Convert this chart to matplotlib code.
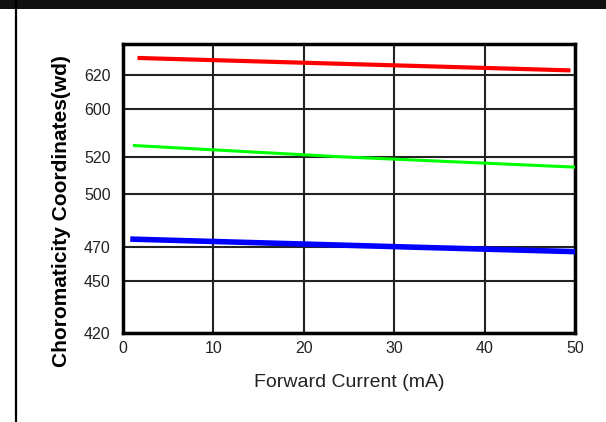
import numpy as np
import matplotlib
matplotlib.use('Agg')
import matplotlib.pyplot as plt
from matplotlib.lines import Line2D
from matplotlib.patches import Rectangle

# data (forward current in mA, wavelength in nm)
red_current = [1.6, 49.5]
red_wd = [629.8, 622.5]
green_current = [1.1, 24.0, 50.0]
green_wd = [538.8, 520.0, 514.4]
blue_current = [0.8, 31.0, 50.0]
blue_wd = [474.4, 470.0, 467.2]

x_ticks = [0, 10, 20, 30, 40, 50]
y_ticks = [420, 450, 470, 500, 520, 600, 620]

# the y axis is broken: ticks are not evenly spaced
scale_vals = [420, 450, 470, 500, 520, 600, 620, 640]
scale_pos = [0, 52, 86, 139, 176, 224, 258, 292]


def fwd(v):
    return np.interp(v, scale_vals, scale_pos)


def inv(p):
    return np.interp(p, scale_pos, scale_vals)


plt.rcParams['font.family'] = ['Liberation Sans', 'DejaVu Sans']

fig = plt.figure(figsize=(6.06, 4.22), dpi=100)
ax = fig.add_axes([123 / 606, 89 / 422, 452 / 606, 289 / 422])
ax.set_yscale('function', functions=(fwd, inv))

ax.plot(red_current, red_wd, color='#ff0000', lw=3.0, solid_capstyle='butt', zorder=3)
ax.plot(green_current, green_wd, color='#00ff00', lw=2.2, solid_capstyle='butt', zorder=3)
ax.plot(blue_current, blue_wd, color='#0000ff', lw=4.0, solid_capstyle='butt', zorder=3)

ax.set_xlim(0, 50)
ax.set_ylim(420, 638)
ax.set_xticks(x_ticks)
ax.set_yticks(y_ticks)
ax.set_yticklabels([str(v) for v in y_ticks])
ax.minorticks_off()
ax.grid(True, color='#222222', lw=1.5)
ax.tick_params(length=0, labelsize=11.5, labelcolor='#222222')
ax.tick_params(axis='y', pad=9)
ax.tick_params(axis='x', pad=6)
for sp in ax.spines.values():
    sp.set_linewidth(2.5)
    sp.set_color('black')

ax.set_xlabel('Forward Current (mA)', fontsize=14, color='#222222', labelpad=13)
fig.text(62 / 606, 0.50, 'Choromaticity Coordinates(wd)', rotation=90,
         fontsize=15, fontweight='bold', ha='center', va='center')

# frame of the original image: black bar on top, line on the left
fig.add_artist(Rectangle((0, 1 - 9 / 422), 1, 9 / 422, transform=fig.transFigure,
                         color='#111111', lw=0))
fig.add_artist(Line2D([16 / 606, 16 / 606], [0, 1], transform=fig.transFigure,
                      color='black', lw=1.6))

fig.savefig('out.png', dpi=100)
